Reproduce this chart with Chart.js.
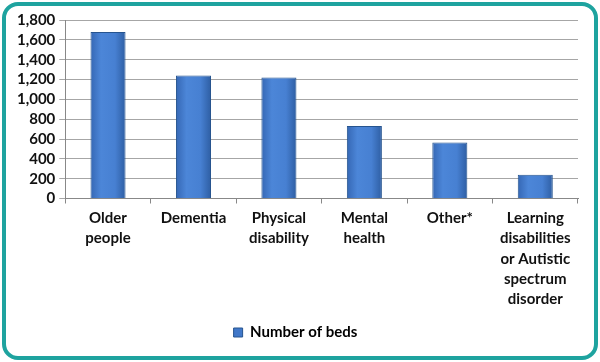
<!DOCTYPE html>
<html>
<head>
<meta charset="utf-8">
<script src="https://cdn.jsdelivr.net/npm/chart.js@4"></script>
<style>
  html, body { margin: 0; padding: 0; background: #fff; }
  #wrap { position: relative; width: 600px; height: 362px; }
  #frame {
    position: absolute; left: 2px; top: 2px; width: 588px; height: 350px;
    border: 4px solid #1ea39f; border-radius: 16px; background: #fff;
  }
  canvas { position: absolute; left: 0; top: 0; }
</style>
</head>
<body>
<div id="wrap">
  <div id="frame"></div>
  <canvas id="bedsChart" width="600" height="362"></canvas>
</div>
<script>
// Beds by care category
var categories = [
  ['Older', 'people'],
  ['Dementia'],
  ['Physical', 'disability'],
  ['Mental', 'health'],
  ['Other*'],
  ['Learning', 'disabilities', 'or Autistic', 'spectrum', 'disorder']
];
var beds = [1680, 1240, 1220, 730, 565, 240];
var seriesName = 'Number of beds';

var fontFamily = 'Lato, "Open Sans", sans-serif';
var catFont = { family: fontFamily, size: 15, weight: 'bold', lineHeight: 1.34 };
var numFont = { family: fontFamily, size: 15, weight: 'bold', lineHeight: 1.1 };
var barPct = 0.41;

// shade each bar across its width, like the old office look
function barFill(context) {
  var chart = context.chart;
  var xs = chart.scales.x;
  if (!chart.chartArea || !xs) return '#4178c9';
  var w = xs.width / categories.length * barPct;
  var x0 = xs.getPixelForValue(context.dataIndex) - w / 2;
  var g = chart.ctx.createLinearGradient(x0, 0, x0 + w, 0);
  g.addColorStop(0, '#3567b4');
  g.addColorStop(0.3, '#4c86d8');
  g.addColorStop(0.7, '#4780d2');
  g.addColorStop(1, '#2e5ea3');
  return g;
}

var ctx = document.getElementById('bedsChart').getContext('2d');
var bedsChart = new Chart(ctx, {
  type: 'bar',
  data: {
    labels: categories,
    datasets: [{
      label: seriesName,
      data: beds,
      backgroundColor: barFill,
      borderColor: '#26548f',
      borderWidth: 1,
      categoryPercentage: 1,
      barPercentage: barPct
    }]
  },
  options: {
    responsive: false,
    animation: false,
    layout: { padding: { left: 13, right: 22, top: 20, bottom: 12 } },
    scales: {
      y: {
        min: 0,
        max: 1800,
        ticks: { stepSize: 200, autoSkip: false, color: '#111', font: numFont, padding: 4 },
        grid: { color: '#a6a6a6', lineWidth: 1, tickLength: 6 },
        border: { color: '#888' }
      },
      x: {
        ticks: { color: '#111', font: catFont, padding: 5, maxRotation: 0, autoSkip: false },
        grid: { offset: true, drawOnChartArea: false, color: '#888', tickLength: 5 },
        border: { color: '#888' }
      }
    },
    plugins: {
      legend: {
        position: 'bottom',
        labels: {
          color: '#111',
          font: numFont,
          boxWidth: 9,
          boxHeight: 9,
          padding: 11,
          generateLabels: function (chart) {
            return [{
              text: seriesName,
              fillStyle: '#4178c9',
              strokeStyle: '#26548f',
              lineWidth: 1,
              datasetIndex: 0
            }];
          }
        }
      },
      tooltip: { enabled: false }
    }
  }
});
</script>
</body>
</html>
